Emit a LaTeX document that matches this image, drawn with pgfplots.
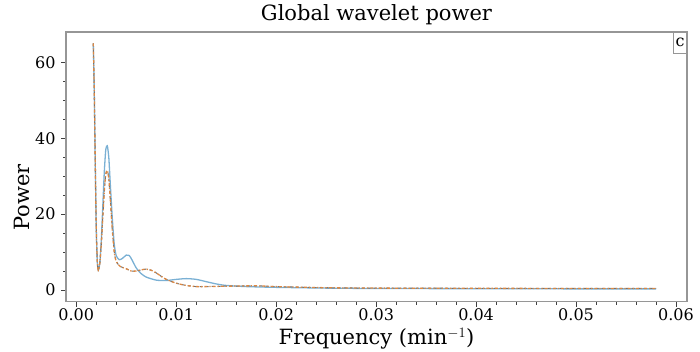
\documentclass[border=0pt]{standalone}
\usepackage{fontspec}
\setmainfont{DejaVu Serif}
\usepackage{pgfplots}
\pgfplotsset{compat=1.18}
\definecolor{bluel}{RGB}{122,176,212}
\definecolor{orl}{RGB}{222,136,66}
\definecolor{frm}{RGB}{150,150,150}
\begin{document}
\fontsize{16}{19}\selectfont
\begin{tikzpicture}
\begin{axis}[
  scale only axis, width=621pt, height=269.7pt,
  xmin=-0.00103, xmax=0.0611, ymin=-3.08, ymax=67.98,
  xtick={0,0.01,0.02,0.03,0.04,0.05,0.06},
  xticklabels={0.00,0.01,0.02,0.03,0.04,0.05,0.06},
  ytick={0,20,40,60},
  minor x tick num=4, minor y tick num=3,
  tick align=outside, tick pos=left,
  major tick length=5pt, minor tick length=3pt,
  every tick/.style={black!75, line width=0.9pt},
  axis line style={frm, line width=1.3pt},
  scaled x ticks=false,
  /pgf/number format/assume math mode=true,
  ticklabel style={font=\fontsize{16}{19}\selectfont},
  xticklabel style={yshift=-1pt, inner ysep=1pt},
  title={Global wavelet power},
  title style={font=\fontsize{21}{25}\selectfont, anchor=base, at={(axis description cs:0.5,1)}, yshift=5pt},
  xlabel={Frequency (min$^{-1}$)},
  ylabel={Power},
  label style={font=\fontsize{21}{25}\selectfont},
  xlabel style={anchor=base, at={(axis description cs:0.5,0)}, yshift=-43pt, inner ysep=0pt},
  ylabel style={anchor=base, at={(axis description cs:-0.058,0.387)}},
  clip=false,
]
\addplot[bluel, line width=1.3pt, smooth, tension=0.4] coordinates {
(0.00170,65) (0.00180,52) (0.00190,33) (0.00200,16) (0.00210,7.5) (0.00220,5.2)
(0.00235,7) (0.00250,13) (0.00265,22) (0.00280,31) (0.00295,37) (0.00310,38)
(0.00325,35) (0.00340,28) (0.00360,19) (0.00380,12) (0.00400,9) (0.00430,8)
(0.00460,8.3) (0.00500,9.2) (0.00530,9.1) (0.00560,7.8) (0.00600,5.8) (0.00650,4.3)
(0.00700,3.4) (0.00800,2.6) (0.00900,2.5) (0.01000,2.8) (0.01100,3.0) (0.01200,2.8)
(0.01300,2.2) (0.01400,1.6) (0.01500,1.2) (0.01700,0.9) (0.02000,0.7) (0.02500,0.5)
(0.03000,0.4) (0.04000,0.35) (0.05000,0.3) (0.05800,0.3)
};
\addplot[black!55, line width=1pt, dashed, smooth, tension=0.4] coordinates {
(0.00170,65) (0.00180,52) (0.00190,33) (0.00200,16) (0.00210,7.5) (0.00220,5.2)
(0.00235,7) (0.00250,12) (0.00265,19) (0.00280,26) (0.00295,30.5) (0.00310,31.5)
(0.00325,29.5) (0.00340,24) (0.00360,16) (0.00380,10) (0.00400,7.5) (0.00440,6.2)
(0.00500,5.6) (0.00550,5.0) (0.00600,5.0) (0.00650,5.3) (0.00700,5.5) (0.00750,5.2)
(0.00800,4.5) (0.00850,3.6) (0.00900,2.8) (0.01000,1.8) (0.01100,1.2) (0.01200,0.9)
(0.01300,0.9) (0.01500,1.0) (0.01800,1.1) (0.02000,0.9) (0.02500,0.6) (0.03000,0.5)
(0.04000,0.45) (0.05000,0.4) (0.05800,0.4)
};
\addplot[orl, line width=1.3pt, dash dot, smooth, tension=0.4] coordinates {
(0.00170,65) (0.00180,52) (0.00190,33) (0.00200,16) (0.00210,7.5) (0.00220,5.2)
(0.00235,7) (0.00250,12) (0.00265,19) (0.00280,26) (0.00295,30.5) (0.00310,31.5)
(0.00325,29.5) (0.00340,24) (0.00360,16) (0.00380,10) (0.00400,7.5) (0.00440,6.2)
(0.00500,5.6) (0.00550,5.0) (0.00600,5.0) (0.00650,5.3) (0.00700,5.5) (0.00750,5.2)
(0.00800,4.5) (0.00850,3.6) (0.00900,2.8) (0.01000,1.8) (0.01100,1.2) (0.01200,0.9)
(0.01300,0.9) (0.01500,1.0) (0.01800,1.1) (0.02000,0.9) (0.02500,0.6) (0.03000,0.5)
(0.04000,0.45) (0.05000,0.4) (0.05800,0.4)
};
\node[anchor=north east, draw=frm, line width=0.7pt, inner xsep=2pt, inner ysep=0pt, minimum height=21pt, font=\fontsize{16}{19}\selectfont] at (rel axis cs:1,1) {c};
\end{axis}
\pgfresetboundingbox
\useasboundingbox (-66pt,-50.3pt) rectangle (634pt,301.7pt);
\end{tikzpicture}
\end{document}
